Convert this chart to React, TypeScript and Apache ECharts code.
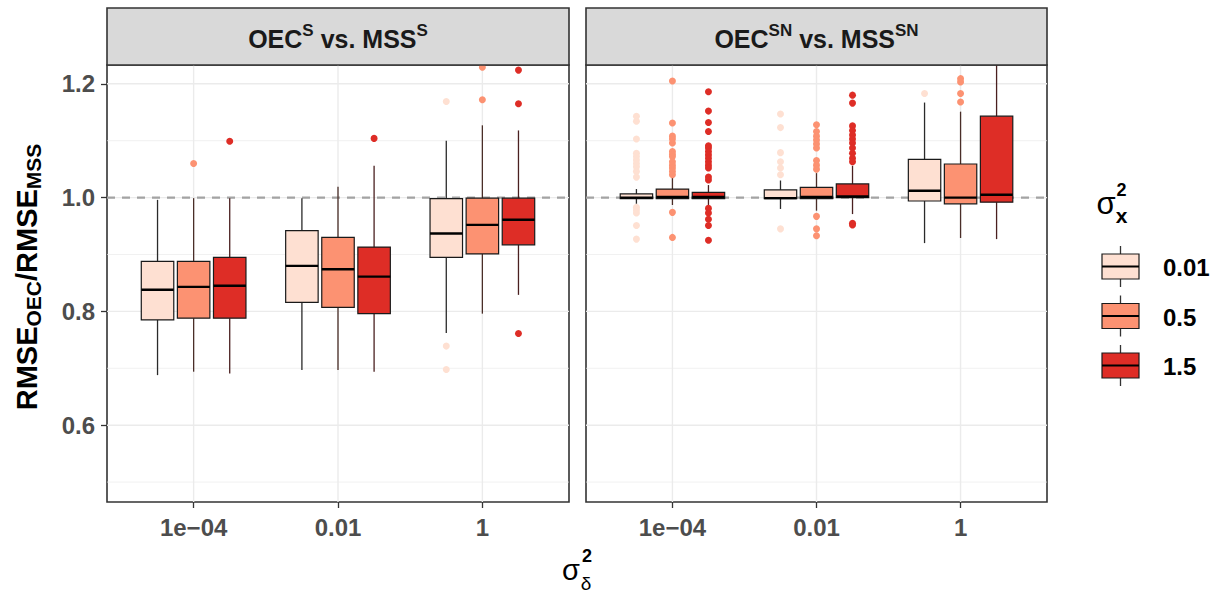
import React, { useEffect, useRef } from "react";
import * as echarts from "echarts";

// ---------- data ----------
const xCategories = ["1e\u221204", "0.01", "1"];
const groupLabels = ["0.01", "0.5", "1.5"];
const groupFills = ["#FEE0D2", "#FC9272", "#DE2D26"];
const groupWhiskers = ["#2a2a2a", "#4a2e28", "#4a2020"];
const groupOffsets = [-0.25, 0, 0.25];

const yMajorTicks = [0.6, 0.8, 1.0, 1.2];
const yMinorTicks = [0.5, 0.7, 0.9, 1.1];
const xTickPositions = [1, 2, 3];
const referenceLine = [1.0];

// box stats per x category: [lower whisker, Q1, median, Q3, upper whisker]
// panel "OEC^S vs. MSS^S"
const sBox001 = [[0.688, 0.785, 0.838, 0.888, 0.996], [0.697, 0.816, 0.880, 0.942, 0.999], [0.762, 0.895, 0.937, 0.998, 1.100]];
const sBox05 = [[0.694, 0.788, 0.843, 0.888, 0.999], [0.697, 0.807, 0.874, 0.930, 1.019], [0.796, 0.901, 0.952, 0.999, 1.127]];
const sBox15 = [[0.691, 0.788, 0.845, 0.895, 0.999], [0.694, 0.796, 0.861, 0.913, 1.056], [0.829, 0.917, 0.961, 0.999, 1.118]];
// panel "OEC^SN vs. MSS^SN"
const snBox001 = [[0.989, 0.998, 1.000, 1.0065, 1.015], [0.980, 0.998, 0.999, 1.0135, 1.030], [0.920, 0.994, 1.012, 1.067, 1.167]];
const snBox05 = [[0.987, 0.998, 1.001, 1.015, 1.036], [0.977, 0.998, 1.001, 1.018, 1.043], [0.929, 0.989, 1.000, 1.059, 1.151]];
const snBox15 = [[0.987, 0.998, 1.001, 1.009, 1.022], [0.971, 1.000, 1.002, 1.024, 1.056], [0.927, 0.992, 1.005, 1.143, 1.270]];

// outliers: [x category index, value]
const sOut001 = [[2, 1.169], [2, 0.739], [2, 0.698]];
const sOut05 = [[0, 1.060], [2, 1.172], [2, 1.229]];
const sOut15 = [[0, 1.099], [1, 1.104], [2, 1.224], [2, 1.165], [2, 0.761]];

const snOut001 = [
  [0, 1.143], [0, 1.134], [0, 1.103], [0, 1.078], [0, 1.072], [0, 1.066], [0, 1.060], [0, 1.054], [0, 1.046], [0, 1.036],
  [0, 0.983], [0, 0.978], [0, 0.973], [0, 0.951], [0, 0.927],
  [1, 1.147], [1, 1.123], [1, 1.079], [1, 1.063], [1, 1.052], [1, 1.040], [1, 0.945],
  [2, 1.183],
];
const snOut05 = [
  [0, 1.205], [0, 1.131], [0, 1.108], [0, 1.103], [0, 1.096], [0, 1.081], [0, 1.076], [0, 1.072], [0, 1.063], [0, 1.057],
  [0, 1.052], [0, 1.046], [0, 1.040], [0, 0.974], [0, 0.930],
  [1, 1.128], [1, 1.116], [1, 1.108], [1, 1.101], [1, 1.094], [1, 1.087], [1, 1.065], [1, 1.057], [1, 1.050],
  [1, 0.967], [1, 0.945], [1, 0.933],
  [2, 1.209], [2, 1.203], [2, 1.183], [2, 1.168],
];
const snOut15 = [
  [0, 1.186], [0, 1.152], [0, 1.132], [0, 1.116], [0, 1.091], [0, 1.087], [0, 1.081], [0, 1.075], [0, 1.069], [0, 1.063],
  [0, 1.057], [0, 1.052], [0, 1.036], [0, 1.031], [0, 0.981], [0, 0.973], [0, 0.962], [0, 0.951], [0, 0.925],
  [1, 1.180], [1, 1.166], [1, 1.126], [1, 1.118], [1, 1.110], [1, 1.103], [1, 1.096], [1, 1.087], [1, 1.078],
  [1, 1.069], [1, 1.063], [1, 0.955], [1, 0.952],
];

const panelBoxes = [[sBox001, sBox05, sBox15], [snBox001, snBox05, snBox15]];
const panelOutliers = [[sOut001, sOut05, sOut15], [snOut001, snOut05, snOut15]];
const panelTitleParts = [["OEC", "S", " vs. MSS", "S"], ["OEC", "SN", " vs. MSS", "SN"]];

// ---------- layout ----------
const FONT = "'Liberation Sans', Arial, Helvetica, sans-serif";
const GRID_TOP = 65;
const GRID_H = 437;
const GRIDS = [{ left: 107, width: 462 }, { left: 586, width: 461 }];
const STRIP_TOP = 8;
const BOX_W = 0.225;
const Y_MIN = 0.465;
const Y_MAX = 1.233;

function buildOption() {
  const series: any[] = [];
  const xAxes: any[] = [];
  const yAxes: any[] = [];
  const grids: any[] = [];
  const graphics: any[] = [];

  GRIDS.forEach((g, p) => {
    grids.push({
      left: g.left, top: GRID_TOP, width: g.width, height: GRID_H,
      show: true, backgroundColor: "#ffffff", borderColor: "#333333", borderWidth: 1.6,
    });
    xAxes.push({
      type: "value", gridIndex: p, min: 0.4, max: 3.6,
      axisLine: { show: false }, splitLine: { show: false },
      axisTick: { show: true, customValues: xTickPositions, length: 6, lineStyle: { color: "#333333", width: 1.3 } },
      axisLabel: {
        customValues: xTickPositions,
        formatter: (v: number) => xCategories[Math.round(v) - 1] ?? "",
        color: "#4D4D4D", fontWeight: "bold", fontSize: 24, fontFamily: FONT, margin: 13,
      },
    });
    yAxes.push({
      type: "value", gridIndex: p, min: Y_MIN, max: Y_MAX,
      axisLine: { show: false }, splitLine: { show: false },
      axisTick: { show: p === 0, customValues: yMajorTicks, length: 6, lineStyle: { color: "#333333", width: 1.3 } },
      axisLabel: {
        show: p === 0, customValues: yMajorTicks,
        formatter: (v: number) => v.toFixed(1),
        color: "#4D4D4D", fontWeight: "bold", fontSize: 24, fontFamily: FONT, margin: 12,
      },
    });

    // gridlines
    const gridData = [
      ...yMajorTicks.map((v) => [0, v]),
      ...yMinorTicks.map((v) => [1, v]),
      ...xTickPositions.map((v) => [2, v]),
    ];
    series.push({
      type: "custom", xAxisIndex: p, yAxisIndex: p, z: 1, silent: true,
      data: gridData,
      renderItem: (params: any, api: any) => {
        const cs = params.coordSys;
        const kind = api.value(0);
        const v = api.value(1);
        if (kind === 2) {
          const x = api.coord([v, 1])[0];
          return { type: "line", shape: { x1: x, y1: cs.y, x2: x, y2: cs.y + cs.height }, style: { stroke: "#EBEBEB", lineWidth: 1.4 } };
        }
        const y = api.coord([1, v])[1];
        return { type: "line", shape: { x1: cs.x, y1: y, x2: cs.x + cs.width, y2: y }, style: { stroke: "#EBEBEB", lineWidth: kind === 0 ? 1.4 : 0.7 } };
      },
    });
    // reference dashed line
    series.push({
      type: "custom", xAxisIndex: p, yAxisIndex: p, z: 2, silent: true,
      data: referenceLine.map((v) => [1, v]),
      renderItem: (params: any, api: any) => {
        const cs = params.coordSys;
        const y = api.coord([1, api.value(1)])[1];
        return { type: "line", shape: { x1: cs.x, y1: y, x2: cs.x + cs.width, y2: y }, style: { stroke: "#A3A3A3", lineWidth: 2.2, lineDash: [8, 7] } };
      },
    });

    // boxes
    panelBoxes[p].forEach((boxes, gi) => {
      series.push({
        type: "custom", xAxisIndex: p, yAxisIndex: p, z: 3, silent: true,
        data: boxes.map((s, ci) => [ci + 1 + groupOffsets[gi], ...s]),
        renderItem: (params: any, api: any) => {
          const cs = params.coordSys;
          const x = api.value(0);
          const lo = api.coord([x, api.value(1)]);
          const q1 = api.coord([x, api.value(2)]);
          const md = api.coord([x, api.value(3)]);
          const q3 = api.coord([x, api.value(4)]);
          const hi = api.coord([x, api.value(5)]);
          const w = api.size([BOX_W, 0])[0];
          const hiY = Math.max(hi[1], cs.y);
          const loY = Math.min(lo[1], cs.y + cs.height);
          const wStyle = { stroke: groupWhiskers[gi], lineWidth: 1.3 };
          return {
            type: "group",
            children: [
              { type: "line", shape: { x1: lo[0], y1: loY, x2: q1[0], y2: q1[1] }, style: wStyle },
              { type: "line", shape: { x1: hi[0], y1: hiY, x2: q3[0], y2: q3[1] }, style: wStyle },
              {
                type: "rect",
                shape: { x: q3[0] - w / 2, y: q3[1], width: w, height: q1[1] - q3[1] },
                style: { fill: groupFills[gi], stroke: "#1a1a1a", lineWidth: 1.2 },
              },
              { type: "line", shape: { x1: md[0] - w / 2, y1: md[1], x2: md[0] + w / 2, y2: md[1] }, style: { stroke: "#000000", lineWidth: 2.4 } },
            ],
          };
        },
      });
    });

    // outliers
    panelOutliers[p].forEach((pts, gi) => {
      series.push({
        type: "scatter", xAxisIndex: p, yAxisIndex: p, z: 4, silent: true,
        symbol: "circle", symbolSize: 7,
        itemStyle: { color: groupFills[gi], opacity: 1 },
        data: pts.map(([c, v]) => [c + 1 + groupOffsets[gi], v]),
      });
    });

    // strip
    graphics.push({
      type: "rect", z: 10,
      shape: { x: g.left, y: STRIP_TOP, width: g.width, height: GRID_TOP - STRIP_TOP },
      style: { fill: "#D9D9D9", stroke: "#333333", lineWidth: 1.6 },
    });
    const tp = panelTitleParts[p];
    graphics.push({
      type: "text", z: 11,
      x: g.left + g.width / 2, y: (STRIP_TOP + GRID_TOP) / 2 + 2,
      style: {
        text: `{m|${tp[0]}}{s|${tp[1]}}{m|${tp[2]}}{s|${tp[3]}}`,
        align: "center", verticalAlign: "middle",
        rich: {
          m: { fontSize: 25, fontWeight: "bold", fontFamily: FONT, lineHeight: 34, fill: "#1a1a1a" },
          s: { fontSize: 17, fontWeight: "bold", fontFamily: FONT, lineHeight: 17, verticalAlign: "top", fill: "#1a1a1a" },
        },
      },
    });
  });

  // y-axis title
  graphics.push({
    type: "text", z: 11, x: 27, y: 277, rotation: Math.PI / 2,
    style: {
      text: "{m|RMSE}{s|OEC}{m|/RMSE}{s|MSS}",
      align: "center", verticalAlign: "middle",
      rich: {
        m: { fontSize: 29, fontWeight: "bold", fontFamily: FONT, lineHeight: 34, fill: "#000" },
        s: { fontSize: 21, fontWeight: "bold", fontFamily: FONT, lineHeight: 18, verticalAlign: "bottom", fill: "#000" },
      },
    },
  });

  // x-axis title  sigma_delta^2
  graphics.push({ type: "text", z: 11, x: 571, y: 570, style: { text: "\u03C3", fontSize: 29, fontFamily: FONT, fill: "#000", align: "center", verticalAlign: "middle" } });
  graphics.push({ type: "text", z: 11, x: 587, y: 556, style: { text: "2", fontSize: 18, fontWeight: "bold", fontFamily: FONT, fill: "#000", align: "center", verticalAlign: "middle" } });
  graphics.push({ type: "text", z: 11, x: 586, y: 583, style: { text: "\u03B4", fontSize: 19, fontFamily: FONT, fill: "#000", align: "center", verticalAlign: "middle" } });

  // legend title sigma_x^2
  graphics.push({ type: "text", z: 11, x: 1106, y: 203, style: { text: "\u03C3", fontSize: 31, fontFamily: FONT, fill: "#000", align: "center", verticalAlign: "middle" } });
  graphics.push({ type: "text", z: 11, x: 1121.5, y: 190, style: { text: "2", fontSize: 18, fontWeight: "bold", fontFamily: FONT, fill: "#000", align: "center", verticalAlign: "middle" } });
  graphics.push({ type: "text", z: 11, x: 1121.5, y: 215, style: { text: "x", fontSize: 21, fontWeight: "bold", fontFamily: FONT, fill: "#000", align: "center", verticalAlign: "middle" } });

  // legend keys
  groupLabels.forEach((lab, i) => {
    const top = 254 + i * 49.5;
    const kx = 1102, kw = 37, kh = 25, cx = kx + kw / 2;
    graphics.push({ type: "line", z: 11, shape: { x1: cx, y1: top - 8, x2: cx, y2: top }, style: { stroke: "#333", lineWidth: 1.3 } });
    graphics.push({ type: "line", z: 11, shape: { x1: cx, y1: top + kh, x2: cx, y2: top + kh + 8 }, style: { stroke: "#333", lineWidth: 1.3 } });
    graphics.push({ type: "rect", z: 11, shape: { x: kx, y: top, width: kw, height: kh }, style: { fill: groupFills[i], stroke: "#1a1a1a", lineWidth: 1.2 } });
    graphics.push({ type: "line", z: 12, shape: { x1: kx, y1: top + kh / 2, x2: kx + kw, y2: top + kh / 2 }, style: { stroke: "#000", lineWidth: 2 } });
    graphics.push({
      type: "text", z: 11, x: 1163, y: top + kh / 2 + 1,
      style: { text: lab, fontSize: 24, fontWeight: "bold", fontFamily: FONT, fill: "#000", align: "left", verticalAlign: "middle" },
    });
  });

  return {
    animation: false,
    backgroundColor: "#ffffff",
    grid: grids,
    xAxis: xAxes,
    yAxis: yAxes,
    series,
    graphic: graphics,
  };
}

export default function App() {
  const ref = useRef<HTMLDivElement>(null);
  useEffect(() => {
    if (!ref.current) return;
    const chart = echarts.init(ref.current, undefined, { renderer: "svg" });
    chart.setOption(buildOption() as any);
    return () => chart.dispose();
  }, []);
  return (
    <div
      ref={ref}
      style={{ position: "fixed", left: 0, top: 0, width: 1219, height: 595, background: "#fff" }}
    />
  );
}
